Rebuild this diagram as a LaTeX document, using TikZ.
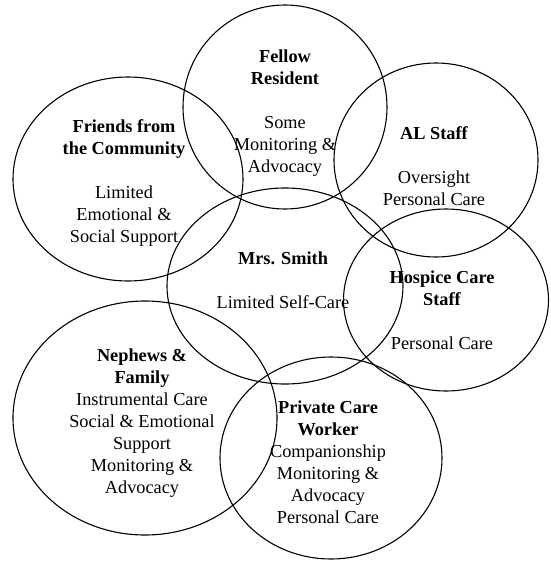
\documentclass[tikz,border=0pt]{standalone}
\usepackage{fontspec}
\setmainfont{Liberation Serif}
\usetikzlibrary{shapes.geometric}
\begin{document}
\begin{tikzpicture}[x=1pt,y=-1pt,
  ring/.style={draw=black, line width=1.1pt, ellipse, inner sep=0pt, outer sep=0pt},
  label/.style={align=center, inner sep=0pt, font=\fontsize{18.3}{22}\selectfont}]
\useasboundingbox (0,0) rectangle (550,563);

% circles of care
\node[ring, minimum width=204, minimum height=204] (fellow)  at (285,107) {};
\node[ring, minimum width=230, minimum height=204] (friends) at (128,179) {};
\node[ring, minimum width=204, minimum height=194] (alstaff) at (436,160) {};
\node[ring, minimum width=236, minimum height=196] (smith)   at (285,286) {};
\node[ring, minimum width=205, minimum height=182] (hospice) at (446,300) {};
\node[ring, minimum width=264, minimum height=234] (nephews) at (145,418) {};
\node[ring, minimum width=222, minimum height=202] (private) at (331,458) {};

% labels
\node[label] (tfellow) at (285,113)
  {\textbf{Fellow}\\\textbf{Resident}\\[22pt]Some\\Monitoring \&\\Advocacy};
\node[label] (tfriends) at (124,183)
  {\textbf{Friends from}\\\textbf{the Community}\\[22pt]Limited\\Emotional \&\\Social Support};
\node[label] (talstaff) at (434,166)
  {\textbf{AL Staff}\\[22pt]Oversight\\Personal Care};
\node[label] (tsmith) at (283,280)
  {\textbf{Mrs. Smith}\\[22pt]Limited Self-Care};
\node[label] (thospice) at (442,310)
  {\textbf{Hospice Care}\\\textbf{Staff}\\[22pt]Personal Care};
\node[label] (tnephews) at (142,423)
  {\textbf{Nephews \&}\\\textbf{Family}\\Instrumental Care\\Social \& Emotional\\Support\\Monitoring \&\\Advocacy};
\node[label] (tprivate) at (328,462)
  {\textbf{Private Care}\\\textbf{Worker}\\Companionship\\Monitoring \&\\Advocacy\\Personal Care};
\end{tikzpicture}
\end{document}
